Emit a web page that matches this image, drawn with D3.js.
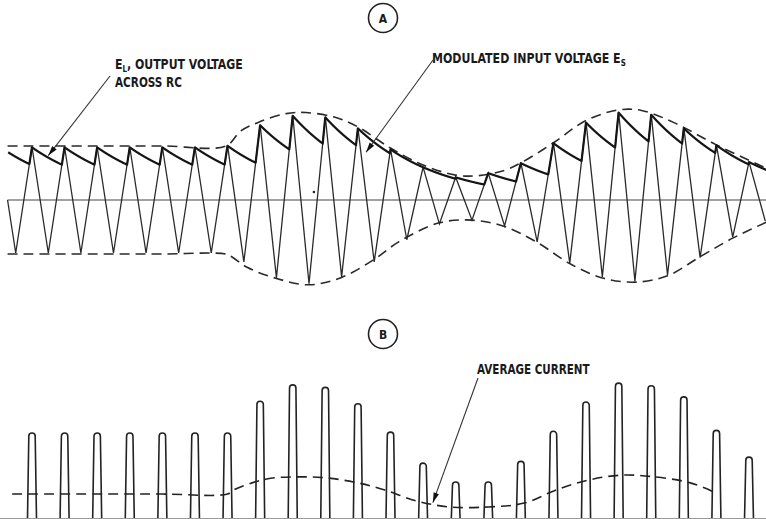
<!DOCTYPE html>
<html><head><meta charset="utf-8">
<script src="https://cdn.jsdelivr.net/npm/d3@7"></script>
<style>
html,body{margin:0;padding:0;background:#fff;}
svg{display:block;background:#fff;}
text{font-family:"Liberation Sans Narrow","DejaVu Sans Condensed","Roboto Condensed","Liberation Sans",Arial,sans-serif;font-weight:bold;fill:#1a1a1a;}
</style></head><body>
<svg id="chart" width="766" height="519"></svg>
<script>
// ---------- DATA ----------
// Panel A: carrier cycle index of each positive peak and its amplitude (flat-level = 1)
const peakT = [0,1,2,3,4,5,6,7,8,9,10,11,12,13,14,15,16,17,18,19,20,21,22];
const peakV = [1.00,1.00,1.00,1.00,1.00,1.00,1.03,1.42,1.60,1.57,1.36,0.96,0.62,0.43,0.51,0.70,1.08,1.47,1.66,1.62,1.36,1.04,0.72];
// negative troughs
const troughT = [-0.5,0.5,1.5,2.5,3.5,4.5,5.5,6.5,7.5,8.5,9.5,10.5,11.5,12.5,13.5,14.5,15.5,16.5,17.5,18.5,19.5,20.5,21.5,22.5];
const troughV = [-1.00,-1.00,-1.00,-1.00,-1.00,-1.00,-1.00,-1.17,-1.47,-1.58,-1.45,-1.17,-0.75,-0.45,-0.38,-0.49,-0.79,-1.19,-1.45,-1.53,-1.42,-1.09,-0.70,-0.40];
const startT = -0.75, startV = 0;
// dashed modulation envelopes
const upperEnvT = [-0.75,2,4,5.95,6.4,7.0,7.8,8.4,9.3,10.0,11.0,12.0,13.0,13.7,14.5,15.0,16.0,17.0,18.0,18.7,19.7,21.0,22.6];
const upperEnvV = [1.02,1.02,1.02,1.02,1.30,1.48,1.63,1.65,1.56,1.38,0.98,0.66,0.47,0.46,0.56,0.70,1.08,1.50,1.70,1.69,1.46,1.04,0.58];
const lowerEnvT = [-0.75,2,4,5.95,6.15,6.6,7.5,8.5,9.5,10.55,11.25,12.5,13.5,14.5,15.5,16.5,17.5,18.5,19.5,20.5,21.5,22.6];
const lowerEnvV = [-1.02,-1.02,-1.02,-1.02,-1.08,-1.27,-1.48,-1.60,-1.46,-1.10,-0.79,-0.43,-0.38,-0.50,-0.80,-1.20,-1.47,-1.55,-1.43,-1.07,-0.72,-0.40];
// RC discharge time constant (in carrier cycles) and initial output voltage
const dischargeTau = 2.3;
const outputStartT = -0.73, outputStartV = 0.9;

// Panel B: current pulse heights (flat-level = 1) and average current
const pulseT = peakT;
const pulseI = [1.00,1.00,1.00,1.00,1.00,1.00,1.00,1.37,1.56,1.53,1.34,1.01,0.65,0.43,0.43,0.67,1.02,1.36,1.58,1.55,1.42,1.03,0.72];
const avgT = [-0.61,2,4,6.0,6.2,7.2,8.2,9.1,10.0,10.8,11.8,12.8,14.0,15.1,16.1,17.1,18.1,19.1,20.2,20.95];
const avgI = [0.29,0.29,0.29,0.29,0.34,0.465,0.49,0.475,0.42,0.34,0.21,0.14,0.14,0.185,0.34,0.455,0.51,0.49,0.42,0.31];

// labels
const labelA = "A", labelB = "B";
const labelOut1 = ["E","L",", OUTPUT VOLTAGE"], labelOut2 = "ACROSS RC";
const labelIn = ["MODULATED INPUT VOLTAGE E","S"];
const labelAvg = "AVERAGE CURRENT";

// ---------- CHART ----------
const W = 766, H = 519;
const svg = d3.select("#chart");
const ink = "#1e1e1e";

const x = d3.scaleLinear().domain([0,22]).range([32,749]);
const yA = d3.scaleLinear().domain([-1,1]).range([253,147]);
const yB = d3.scaleLinear().domain([0,1]).range([519,433]);

// carrier vertices
const verts = [{t:startT, v:startV}];
peakT.forEach((t,i)=>verts.push({t, v:peakV[i]}));
troughT.forEach((t,i)=>verts.push({t, v:troughV[i]}));
verts.sort((a,b)=>a.t-b.t);

function carrierAt(t){
  for (let i=0;i<verts.length-1;i++){
    const a=verts[i], b=verts[i+1];
    if (t>=a.t && t<=b.t) return a.v + (b.v-a.v)*(t-a.t)/(b.t-a.t);
  }
  return -Infinity;
}

// baseline A
svg.append("line").attr("x1", x(startT)).attr("x2", W).attr("y1", yA(0)).attr("y2", yA(0))
  .attr("stroke","#444").attr("stroke-width",1.1);

// envelopes
const envLine = d3.line().x(d=>x(d[0])).y(d=>yA(d[1])).curve(d3.curveCatmullRom.alpha(0.5));
svg.append("path").attr("d", envLine(upperEnvT.map((t,i)=>[t,upperEnvV[i]])))
  .attr("fill","none").attr("stroke","#2a2a2a").attr("stroke-width",1.6).attr("stroke-dasharray","10,6");
svg.append("path").attr("d", envLine(lowerEnvT.map((t,i)=>[t,lowerEnvV[i]])))
  .attr("fill","none").attr("stroke","#2a2a2a").attr("stroke-width",1.6).attr("stroke-dasharray","10,6");

// carrier
svg.append("path").attr("d", d3.line().x(d=>x(d.t)).y(d=>yA(d.v))(verts))
  .attr("fill","none").attr("stroke","#2a2a2a").attr("stroke-width",1.3).attr("stroke-linejoin","miter");

// output voltage E_L (peak detector with RC decay)
const elPts = [];
let el = outputStartV, prevT = outputStartT;
for (let t=outputStartT; t<=22.6; t+=0.004){
  el = Math.max(el*Math.exp(-(t-prevT)/dischargeTau), carrierAt(t));
  prevT = t; elPts.push([t, el]);
}
svg.append("path").attr("d", d3.line().x(d=>x(d[0])).y(d=>yA(d[1]))(elPts))
  .attr("fill","none").attr("stroke","#151515").attr("stroke-width",2.2).attr("stroke-linejoin","round");
function elAt(t){ let best=elPts[0]; for (const p of elPts){ if (Math.abs(p[0]-t)<Math.abs(best[0]-t)) best=p; } return best[1]; }

// scan dot
svg.append("circle").attr("cx", x(8.65)).attr("cy", yA(0.15)).attr("r",1.3).attr("fill","#222");

// Panel B pulses
const pulse = (t, I) => {
  const xc = x(t), top = yB(I), wt = 3.2, wb = 4.6, r = 3.2, bot = H + 6;
  return `M${xc-wb},${bot}L${xc-wt},${top+r}A${r},${r} 0 0 1 ${xc+wt},${top+r}L${xc+wb},${bot}`;
};
svg.append("g").selectAll("path").data(pulseT).join("path")
  .attr("d",(t,i)=>pulse(t,pulseI[i]))
  .attr("fill","none").attr("stroke","#222").attr("stroke-width",1.6);

// average current
svg.append("path").attr("d", d3.line().x(d=>x(d[0])).y(d=>yB(d[1])).curve(d3.curveCatmullRom.alpha(0.5))(avgT.map((t,i)=>[t,avgI[i]])))
  .attr("fill","none").attr("stroke","#222").attr("stroke-width",1.6).attr("stroke-dasharray","10,6");

// bottom gray line
svg.append("line").attr("x1",0).attr("x2",W).attr("y1",H-0.5).attr("y2",H-0.5).attr("stroke","#999").attr("stroke-width",1);

// circle labels
function circ(cx, cy, r, txt){
  svg.append("circle").attr("cx",cx).attr("cy",cy).attr("r",r).attr("fill","none").attr("stroke","#222").attr("stroke-width",1.6);
  svg.append("text").attr("x",cx).attr("y",cy+4.5).attr("text-anchor","middle").attr("font-size",12).text(txt);
}
circ(383, 18, 14.5, labelA);
circ(383, 334, 14.5, labelB);

// arrows
function arrow(x1,y1,x2,y2){
  svg.append("line").attr("x1",x1).attr("y1",y1).attr("x2",x2).attr("y2",y2).attr("stroke","#333").attr("stroke-width",1.1);
  const a=Math.atan2(y2-y1,x2-x1), L=10, w=2.8;
  const bx=x2-L*Math.cos(a), by=y2-L*Math.sin(a);
  const px=-Math.sin(a)*w, py=Math.cos(a)*w;
  svg.append("path").attr("d",`M${x2},${y2}L${bx+px},${by+py}L${bx-px},${by-py}Z`).attr("fill","#111");
}
arrow(110, 76, x(0.5), yA(elAt(0.5)) - 2);
arrow(433, 60, x(10.25), yA(0.9));
arrow(478, 378, x(12.3), yB(0.19));

// text labels
function fit(sel, width){
  const w = sel.node().getBBox().width, x0 = +sel.attr("x");
  sel.attr("transform",`translate(${x0},0) scale(${width/w},1) translate(${-x0},0)`);
}
const fs = 14;
const t1 = svg.append("text").attr("x",115).attr("y",69.5).attr("font-size",fs);
t1.append("tspan").text(labelOut1[0]);
t1.append("tspan").attr("dy",3).attr("font-size",9).text(labelOut1[1]);
t1.append("tspan").attr("dy",-3).text(labelOut1[2]);
fit(t1,128);
const t2 = svg.append("text").attr("x",115).attr("y",87).attr("font-size",fs).text(labelOut2);
fit(t2,67);
const t3 = svg.append("text").attr("x",432).attr("y",63.5).attr("font-size",fs);
t3.append("tspan").text(labelIn[0]);
t3.append("tspan").attr("dy",3).attr("font-size",9).text(labelIn[1]);
fit(t3,194);
const t4 = svg.append("text").attr("x",477).attr("y",374).attr("font-size",fs).text(labelAvg);
fit(t4,113);
</script>
</body></html>
